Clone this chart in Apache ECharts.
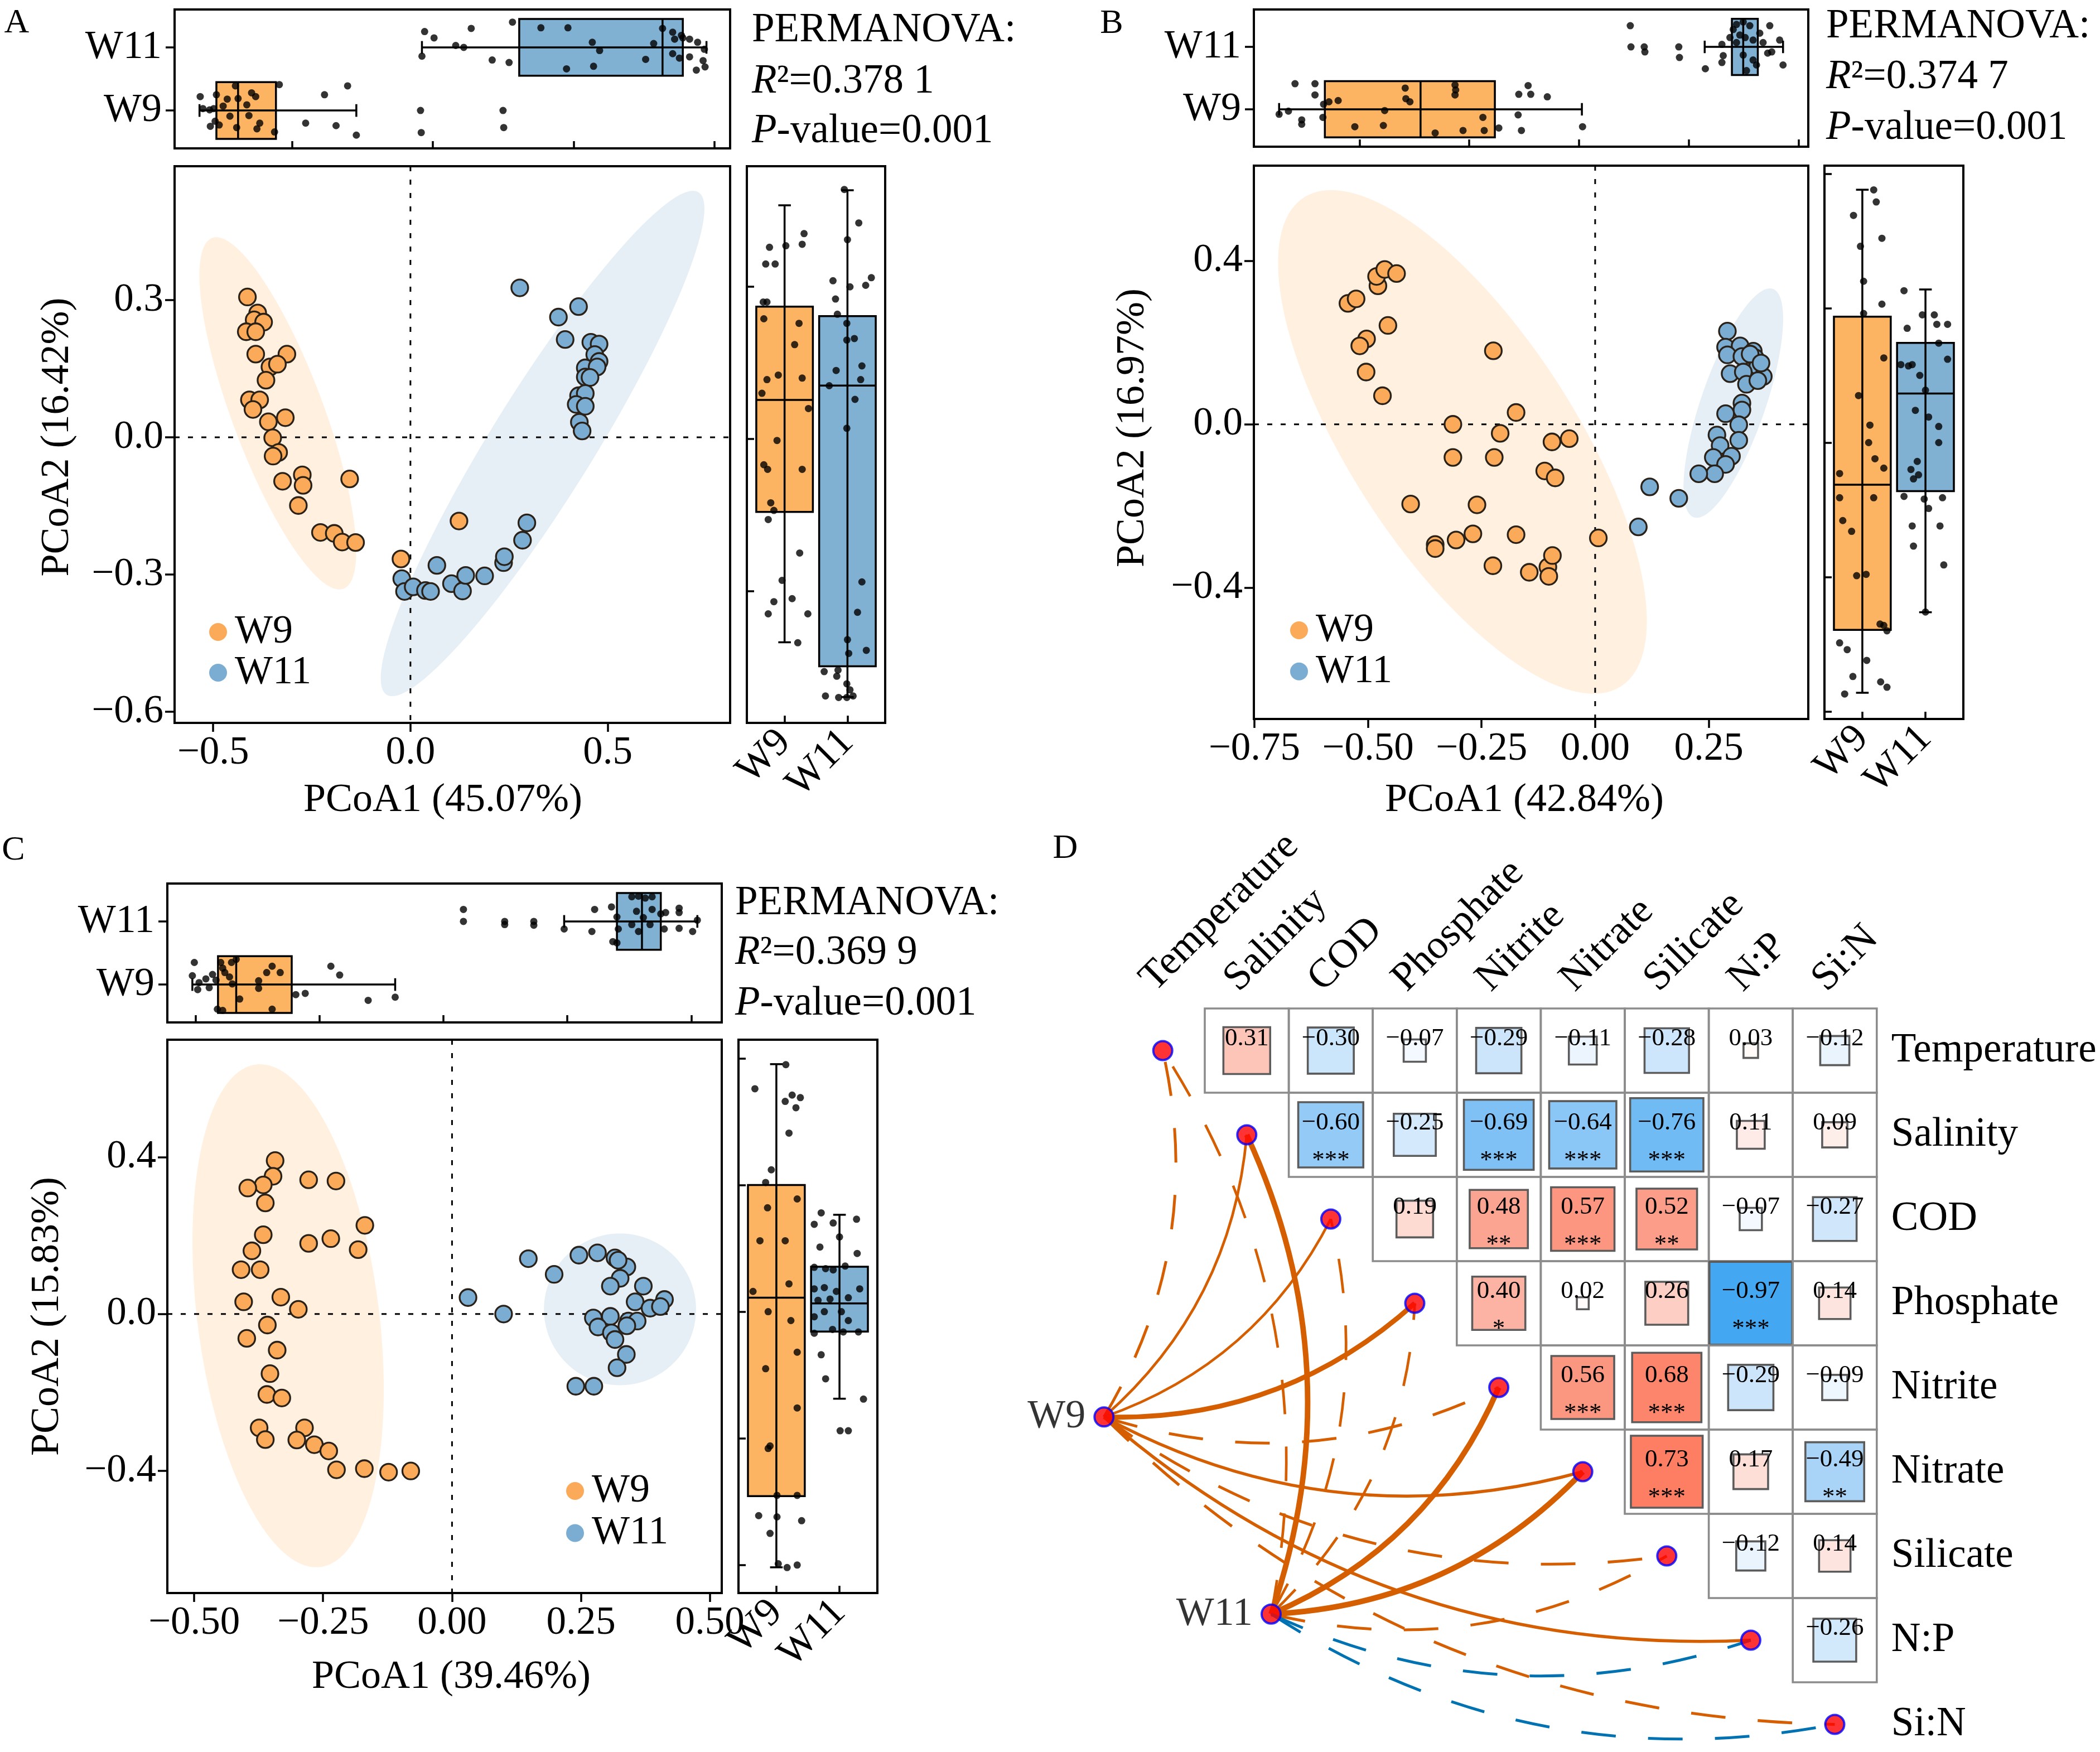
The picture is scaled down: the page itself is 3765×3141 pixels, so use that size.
<!DOCTYPE html>
<html>
<head>
<meta charset="utf-8">
<title>PCoA panels and Mantel network</title>
<script src="https://cdn.jsdelivr.net/npm/echarts@6.0.0/dist/echarts.min.js"></script>
<style>
html,body{margin:0;padding:0;background:#ffffff;}
#chart{width:3765px;height:3141px;}
</style>
</head>
<body>
<div id="chart"></div>
<script>
// ================= DATA =================
const groupNames = ['W9', 'W11'];

// ---- Panel A ----
const aTitles = ['PCoA1 (45.07%)', 'PCoA2 (16.42%)'];
const aR2 = '0.378 1';
const aP = '0.001';
const aXTicks = [-0.5, 0, 0.5];
const aYTicks = [-0.6, -0.3, 0, 0.3];
const aTopTicks = [0, 1, 2, 3];
const aRightTicks = [0, 1, 2];
const aW9 = [[-0.413,0.307],[-0.387,0.272],[-0.396,0.257],[-0.372,0.252],[-0.416,0.231],[-0.392,0.231],[-0.392,0.182],[-0.313,0.182],[-0.356,0.154],[-0.337,0.160],[-0.366,0.125],[-0.408,0.082],[-0.382,0.082],[-0.399,0.061],[-0.360,0.034],[-0.317,0.043],[-0.349,-0.001],[-0.334,-0.033],[-0.348,-0.041],[-0.324,-0.096],[-0.274,-0.082],[-0.272,-0.105],[-0.284,-0.149],[-0.154,-0.091],[-0.228,-0.208],[-0.193,-0.210],[-0.173,-0.229],[-0.139,-0.230],[-0.024,-0.266],[0.123,-0.183]];
const aW11 = [[0.277,0.327],[0.375,0.263],[0.426,0.286],[0.392,0.214],[0.457,0.208],[0.478,0.204],[0.467,0.181],[0.478,0.166],[0.443,0.152],[0.473,0.154],[0.443,0.132],[0.455,0.131],[0.426,0.091],[0.443,0.096],[0.420,0.072],[0.443,0.068],[0.428,0.033],[0.435,0.014],[-0.022,-0.309],[-0.015,-0.337],[0.007,-0.327],[0.038,-0.335],[0.051,-0.337],[0.067,-0.280],[0.104,-0.320],[0.132,-0.336],[0.140,-0.302],[0.188,-0.303],[0.236,-0.274],[0.238,-0.261],[0.284,-0.225],[0.295,-0.187]];
// ellipse: [centerX, centerY, varX, varY, covXY] (95% region, data units)
const aEllW9 = [-0.336, 0.0525, 0.03945, 0.14838, -0.06002];
const aEllW11 = [0.3348, -0.0134, 0.16818, 0.30548, 0.21058];
// box: [group, min, q1, median, q3, max]
const aTopBox = [[1,-0.658,-0.538,-0.384,-0.115,0.456],[2,0.922,1.613,2.631,2.775,2.943]];
const aTopJitW9 = [[-0.653,1.22],[-0.634,1.03],[-0.586,1.01],[-0.557,1.03],[-0.538,1.25],[-0.547,0.83],[-0.518,0.77],[-0.581,0.75],[-0.490,1.07],[-0.461,1.18],[-0.442,0.91],[-0.403,1.39],[-0.384,1.19],[-0.394,0.73],[-0.322,1.09],[-0.288,1.28],[-0.259,1.22],[-0.250,0.71],[-0.230,0.80],[-0.307,0.92],[-0.091,1.41],[-0.125,0.66],[0.096,0.80],[0.230,1.25],[0.312,0.76],[0.394,1.39],[0.456,0.61],[0.912,1.00],[0.917,0.65],[1.498,1.00],[1.503,0.73]];
const aTopJitW11 = [[0.941,2.25],[1.008,2.15],[0.922,1.86],[1.162,2.03],[1.219,2.00],[1.272,2.30],[1.421,1.80],[1.541,1.76],[1.565,2.40],[1.767,2.31],[1.959,2.31],[1.949,1.66],[2.132,2.08],[2.141,1.70],[2.184,1.95],[2.511,1.81],[2.568,2.06],[2.631,2.30],[2.703,2.24],[2.717,2.13],[2.775,2.15],[2.823,2.13],[2.880,2.08],[2.928,1.97],[2.703,1.90],[2.751,1.83],[2.823,1.85],[2.919,1.79],[2.933,1.69],[2.871,1.64],[2.765,2.19]];
const aRightBox = [[1,-0.337,0.520,1.256,1.870,2.536],[2,-0.697,-0.495,1.351,1.807,2.635]];
const aRightJitW9 = [[1.02,2.27],[1.28,2.28],[1.31,2.35],[0.76,2.26],[0.70,2.15],[0.85,2.15],[0.66,1.90],[0.72,1.90],[1.23,1.76],[0.67,1.79],[1.16,1.62],[0.90,1.42],[1.28,1.40],[0.72,1.39],[0.64,1.30],[1.38,1.20],[0.88,0.99],[0.67,0.83],[0.73,0.80],[1.28,0.80],[0.78,0.58],[0.83,0.53],[0.74,0.47],[1.24,0.25],[0.96,0.07],[0.83,-0.07],[1.12,-0.05],[0.74,-0.15],[1.37,-0.15],[1.21,-0.34]];
const aRightJitW11 = [[1.95,2.64],[2.18,2.42],[2.00,2.31],[1.77,2.04],[2.04,2.00],[2.38,2.06],[2.29,2.01],[1.81,1.92],[1.84,1.82],[1.99,1.76],[1.99,1.65],[2.11,1.66],[1.82,1.45],[2.23,1.48],[1.71,1.35],[2.21,1.39],[2.12,1.26],[1.99,1.07],[2.23,0.06],[2.16,-0.14],[2.00,-0.32],[2.02,-0.41],[2.30,-0.39],[1.63,-0.53],[1.85,-0.52],[1.83,-0.56],[1.99,-0.61],[2.04,-0.65],[1.65,-0.69],[1.86,-0.70],[1.99,-0.70],[2.09,-0.69]];

// ---- Panel B ----
const bTitles = ['PCoA1 (42.84%)', 'PCoA2 (16.97%)'];
const bR2 = '0.374 7';
const bP = '0.001';
const bXTicks = [-0.75, -0.5, -0.25, 0, 0.25];
const bYTicks = [-0.4, 0, 0.4];
const bTopTicks = [0, 1, 2, 3, 4];
const bRightTicks = [0, 1, 2, 3, 4];
const bW9 = [[-0.544,0.296],[-0.526,0.307],[-0.478,0.339],[-0.481,0.362],[-0.463,0.379],[-0.437,0.369],[-0.503,0.209],[-0.518,0.192],[-0.456,0.242],[-0.504,0.128],[-0.468,0.070],[-0.224,0.180],[-0.174,0.029],[-0.313,0.000],[-0.209,-0.022],[-0.095,-0.043],[-0.057,-0.035],[-0.313,-0.081],[-0.222,-0.081],[-0.111,-0.114],[-0.088,-0.131],[-0.406,-0.195],[-0.260,-0.197],[-0.352,-0.294],[-0.352,-0.304],[-0.306,-0.283],[-0.269,-0.268],[-0.174,-0.270],[-0.225,-0.346],[-0.145,-0.362],[-0.104,-0.349],[-0.094,-0.321],[-0.102,-0.372],[0.007,-0.278]];
const bW11 = [[0.291,0.228],[0.287,0.189],[0.319,0.192],[0.291,0.170],[0.323,0.166],[0.348,0.179],[0.352,0.163],[0.358,0.142],[0.370,0.117],[0.297,0.124],[0.326,0.128],[0.333,0.098],[0.358,0.107],[0.323,0.052],[0.323,0.035],[0.287,0.026],[0.316,-0.001],[0.268,-0.026],[0.316,-0.039],[0.275,-0.052],[0.300,-0.078],[0.260,-0.081],[0.287,-0.098],[0.263,-0.121],[0.228,-0.121],[0.120,-0.153],[0.184,-0.181],[0.095,-0.251],[0.341,0.172],[0.365,0.150]];
const bEllW9 = [-0.292, -0.043, 0.1646, 0.3797, -0.1779];
const bEllW11 = [0.304, 0.052, 0.012023, 0.07878, 0.022569];
const bTopBox = [[1,-0.732,-0.315,0.557,1.234,2.027],[2,3.146,3.394,3.497,3.630,3.860]];
const bTopJitW9 = [[-0.732,0.92],[-0.647,0.97],[-0.587,1.41],[-0.526,0.83],[-0.526,0.76],[-0.405,1.41],[-0.405,1.23],[-0.327,1.08],[-0.333,0.87],[-0.278,1.12],[-0.194,1.14],[-0.042,0.72],[0.218,0.74],[0.230,0.98],[0.417,1.34],[0.423,1.17],[0.460,1.12],[0.690,0.62],[0.871,1.39],[0.877,1.31],[0.871,1.23],[0.944,0.66],[1.125,0.87],[1.137,0.66],[1.270,0.70],[1.452,1.24],[1.537,1.38],[1.561,1.24],[1.712,1.20],[1.446,0.91],[1.476,0.66],[2.033,0.72]];
const bTopJitW11 = [[2.468,2.34],[2.474,2.00],[2.595,2.00],[2.601,1.92],[2.910,2.00],[2.916,1.83],[3.152,1.65],[3.303,2.04],[3.315,1.86],[3.303,1.75],[3.376,2.15],[3.406,2.28],[3.436,2.36],[3.497,2.40],[3.557,2.34],[3.466,2.19],[3.515,2.15],[3.587,2.11],[3.648,2.22],[3.678,2.07],[3.739,2.34],[3.720,1.90],[3.757,1.92],[3.829,2.11],[3.860,1.71],[3.497,1.87],[3.587,1.79],[3.618,1.71],[3.527,1.62],[3.436,2.07]];
const bRightBox = [[1,0.139,0.607,1.687,2.937,3.881],[2,0.738,1.639,2.365,2.742,3.139]];
const bRightJitW9 = [[0.86,3.69],[0.97,3.46],[1.02,3.20],[1.02,2.96],[1.18,3.88],[1.22,3.79],[1.31,3.52],[1.31,3.03],[1.34,2.63],[0.94,2.35],[1.12,2.13],[1.10,2.00],[1.20,1.88],[1.34,1.81],[0.64,1.77],[0.64,1.59],[1.18,1.59],[0.69,1.42],[0.83,1.34],[0.91,1.01],[1.06,1.02],[1.28,0.65],[1.34,0.64],[1.39,0.60],[0.64,0.51],[0.76,0.46],[1.07,0.38],[0.85,0.26],[0.72,0.13],[1.29,0.22],[1.39,0.18]];
const bRightJitW11 = [[1.66,3.13],[1.95,2.95],[2.14,2.95],[2.18,2.88],[1.71,2.85],[2.35,2.88],[2.21,2.74],[1.61,2.58],[1.73,2.57],[1.79,2.58],[1.91,2.50],[2.35,2.62],[2.00,2.39],[1.84,2.24],[2.05,2.19],[2.21,2.12],[2.21,2.00],[1.87,1.86],[1.77,1.80],[1.89,1.76],[1.81,1.73],[1.66,1.60],[1.98,1.58],[2.27,1.59],[2.05,1.51],[1.79,1.38],[2.23,1.38],[1.81,1.23],[2.29,1.09],[2.00,0.74]];

// ---- Panel C ----
const cTitles = ['PCoA1 (39.46%)', 'PCoA2 (15.83%)'];
const cR2 = '0.369 9';
const cP = '0.001';
const cXTicks = [-0.5, -0.25, 0, 0.25, 0.5];
const cYTicks = [-0.4, 0, 0.4];
const cTopTicks = [0, 1, 2, 3, 4];
const cRightTicks = [0, 1, 2, 3, 4];
const cW9 = [[-0.343,0.391],[-0.347,0.351],[-0.366,0.329],[-0.396,0.321],[-0.362,0.283],[-0.278,0.342],[-0.225,0.339],[-0.169,0.226],[-0.366,0.202],[-0.388,0.161],[-0.278,0.180],[-0.235,0.192],[-0.182,0.164],[-0.409,0.113],[-0.372,0.113],[-0.332,0.043],[-0.404,0.031],[-0.298,0.012],[-0.358,-0.028],[-0.398,-0.062],[-0.339,-0.092],[-0.353,-0.152],[-0.359,-0.205],[-0.330,-0.214],[-0.374,-0.290],[-0.286,-0.290],[-0.362,-0.320],[-0.301,-0.321],[-0.267,-0.333],[-0.239,-0.349],[-0.224,-0.397],[-0.170,-0.394],[-0.123,-0.403],[-0.080,-0.400]];
const cW11 = [[0.031,0.042],[0.100,0.000],[0.148,0.141],[0.198,0.101],[0.246,0.150],[0.282,0.156],[0.316,0.143],[0.339,0.120],[0.326,0.091],[0.307,0.071],[0.371,0.071],[0.355,0.031],[0.412,0.037],[0.384,0.015],[0.404,0.019],[0.274,-0.010],[0.307,-0.006],[0.342,-0.018],[0.359,-0.018],[0.283,-0.033],[0.309,-0.048],[0.339,-0.030],[0.316,-0.065],[0.338,-0.103],[0.320,-0.137],[0.240,-0.184],[0.275,-0.184],[0.322,0.137]];
const cEllW9 = [-0.3178, -0.0045, 0.034392, 0.41075, -0.034856];
const cEllW11 = [0.3257, 0.0119, 0.02174, 0.03737, 0];
const cTopBox = [[1,-0.027,0.180,0.327,0.775,1.610],[2,2.974,3.400,3.602,3.754,4.049]];
const cTopJitW9 = [[-0.011,1.35],[-0.027,1.14],[0.027,1.03],[0.016,0.92],[0.082,1.09],[0.136,1.16],[0.164,1.07],[0.202,1.35],[0.218,1.26],[0.235,1.19],[0.289,1.35],[0.327,1.40],[0.295,1.01],[0.355,0.77],[0.175,0.61],[0.218,0.59],[0.508,1.06],[0.508,0.94],[0.573,1.19],[0.617,1.29],[0.682,1.19],[0.617,0.61],[0.808,0.84],[0.884,0.86],[1.091,1.29],[1.162,1.15],[1.392,0.75],[1.610,0.80],[0.273,1.12],[0.109,0.95]];
const cTopJitW11 = [[2.161,2.19],[2.161,2.00],[2.494,2.00],[2.494,1.95],[2.729,2.00],[2.729,1.94],[2.974,1.88],[3.198,1.84],[3.220,2.19],[3.356,2.23],[3.400,2.07],[3.411,1.88],[3.400,1.66],[3.367,1.68],[3.520,2.39],[3.574,2.40],[3.629,2.37],[3.684,2.39],[3.558,2.16],[3.613,2.06],[3.667,1.95],[3.684,2.19],[3.754,2.12],[3.793,2.14],[3.902,2.21],[3.902,2.14],[3.782,1.88],[3.902,1.89],[4.011,1.84],[4.049,2.02],[3.574,1.84],[3.520,1.95]];
const cRightBox = [[1,-0.018,0.544,2.111,3.000,3.954],[2,1.313,1.843,2.065,2.355,2.765]];
const cRightJitW9 = [[0.66,3.76],[1.15,3.95],[1.14,3.66],[1.25,3.71],[1.38,3.69],[1.31,3.61],[1.20,3.41],[0.92,3.12],[0.83,3.02],[1.33,2.89],[0.86,2.82],[0.74,2.56],[1.14,2.56],[0.63,2.16],[1.20,2.22],[0.87,2.00],[1.23,1.93],[1.33,1.68],[0.83,1.55],[1.33,1.24],[0.90,0.94],[0.87,0.92],[1.01,0.55],[1.33,0.55],[0.72,0.39],[1.01,0.38],[1.40,0.35],[0.90,0.25],[1.03,0.01],[1.17,-0.02],[1.33,0.00]];
const cRightJitW11 = [[1.71,2.78],[2.00,2.59],[2.27,2.73],[1.60,2.69],[1.90,2.70],[1.69,2.51],[2.28,2.46],[1.60,2.35],[1.78,2.34],[1.90,2.33],[2.09,2.36],[1.60,2.18],[1.76,2.19],[1.95,2.16],[1.66,2.09],[1.85,2.10],[2.14,2.11],[2.32,2.18],[1.76,2.00],[2.03,2.00],[2.14,1.93],[1.89,1.86],[1.60,1.83],[2.06,1.84],[2.30,1.84],[1.71,1.66],[1.78,1.47],[2.38,1.31],[2.01,1.06],[2.14,1.06],[1.60,1.96]];

// ---- Panel D ----
const corrVars = ['Temperature','Salinity','COD','Phosphate','Nitrite','Nitrate','Silicate','N:P','Si:N'];
// upper triangle, row i holds correlations with variables i+1 ... 8
const corrR = [
  [0.31,-0.30,-0.07,-0.29,-0.11,-0.28,0.03,-0.12],
  [-0.60,-0.25,-0.69,-0.64,-0.76,0.11,0.09],
  [0.19,0.48,0.57,0.52,-0.07,-0.27],
  [0.40,0.02,0.26,-0.97,0.14],
  [0.56,0.68,-0.29,-0.09],
  [0.73,0.17,-0.49],
  [-0.12,0.14],
  [-0.26]
];
const corrSig = [
  ['','','','','','','',''],
  ['***','','***','***','***','',''],
  ['','**','***','**','',''],
  ['*','','','***',''],
  ['***','***','',''],
  ['***','','**'],
  ['',''],
  ['']
];
const mantelSpecies = ['W9', 'W11'];
// Mantel r (negative = dashed link) and p per species for each variable
const mantelR = [
  [-0.12, 0.10, 0.10, 0.35, -0.12, 0.15, -0.12, 0.15, -0.12],
  [-0.10, 0.40, -0.10, -0.10, 0.40, 0.40, -0.12, -0.12, -0.12]
];
const mantelP = [
  [0.01, 0.01, 0.01, 0.01, 0.01, 0.01, 0.01, 0.01, 0.01],
  [0.01, 0.01, 0.01, 0.01, 0.01, 0.01, 0.01, 0.20, 0.20]
];

// ================= STYLE / LAYOUT =================
const FONT = '"Liberation Serif","Times New Roman",Times,serif';
const BOX_FILL = ['#FDB462', '#80B1D3'];
const PT_FILL = ['#FBAA5A', '#7BADD3'];
const PT_BORDER = '#2a2118';
const ELL_FILL = ['rgba(253,180,98,0.2)', 'rgba(128,177,211,0.2)'];
const nodeLayout = { W9: [-0.70, 4.35], W11: [1.29, 6.69] };
const CORR_STOPS = [[-1,[61,164,242]],[-0.5,[168,211,247]],[0,[255,255,255]],[0.5,[251,160,140]],[1,[255,85,51]]];

const PANELS = [
  { letter:'A', letterPos:[30,42],
    main:{left:313,top:298,width:996,height:998}, topG:{left:313,top:17,width:996,height:249}, rightG:{left:1339,top:298,width:248,height:998},
    xr:[-0.5976,0.810], yr:[-0.6245,0.593], tr:[-0.835,3.111], vr:[-0.867,2.793],
    xt:aXTicks, yt:aYTicks, tt:aTopTicks, vt:aRightTicks, dec:1,
    pts:[aW9,aW11], ell:[aEllW9,aEllW11], topBox:aTopBox, topJ:[aTopJitW9,aTopJitW11], rightBox:aRightBox, rightJ:[aRightJitW9,aRightJitW11],
    titles:aTitles, xGap:103, yGap:174, xPad:[0,34,0,0], yPad:[0,0,0,27], perm:{x:1348,y:[55,147,236]}, r2:aR2, p:aP, legend:{left:375,top:1097,gap:1} },
  { letter:'B', letterPos:[1993,43],
    main:{left:2248,top:297,width:994,height:992}, topG:{left:2248,top:17,width:994,height:246}, rightG:{left:3271,top:297,width:249,height:992},
    xr:[-0.751,0.469], yr:[-0.721,0.633], tr:[-0.962,4.09], vr:[-0.056,4.06],
    xt:bXTicks, yt:bYTicks, tt:bTopTicks, vt:bRightTicks, dec:2,
    pts:[bW9,bW11], ell:[bEllW9,bEllW11], topBox:bTopBox, topJ:[bTopJitW9,bTopJitW11], rightBox:bRightBox, rightJ:[bRightJitW9,bRightJitW11],
    titles:bTitles, xGap:110, yGap:181, xPad:[0,24,0,0], yPad:[0,0,0,52], perm:{x:3274,y:[48,139,230]}, r2:bR2, p:bP, legend:{left:2313,top:1094,gap:1.7} },
  { letter:'C', letterPos:[24,1525],
    main:{left:300,top:1864,width:994,height:992}, topG:{left:300,top:1584,width:994,height:249}, rightG:{left:1324,top:1864,width:249,height:992},
    xr:[-0.552,0.523], yr:[-0.711,0.699], tr:[-0.229,4.246], vr:[-0.221,4.147],
    xt:cXTicks, yt:cYTicks, tt:cTopTicks, vt:cRightTicks, dec:2,
    pts:[cW9,cW11], ell:[cEllW9,cEllW11], topBox:cTopBox, topJ:[cTopJitW9,cTopJitW11], rightBox:cRightBox, rightJ:[cRightJitW9,cRightJitW11],
    titles:cTitles, xGap:115, yGap:179, xPad:[0,0,0,24], yPad:[0,0,0,0], perm:{x:1318,y:[1620,1709,1800]}, r2:cR2, p:cP, legend:{left:1015,top:2637,gap:3.5} }
];

// ================= BUILD =================
function tickFmt(dec){ return function(v){ return (v < -1e-9 ? '\u2212' : '') + Math.abs(v).toFixed(dec); }; }
function catFmt(v){ return groupNames[Math.round(v) - 1] || ''; }
function corrColor(v){
  for (let k = 0; k < CORR_STOPS.length - 1; k++) {
    const a = CORR_STOPS[k][0], ca = CORR_STOPS[k][1], b = CORR_STOPS[k+1][0], cb = CORR_STOPS[k+1][1];
    if (v <= b) { const f = (v - a) / (b - a); return 'rgb(' + ca.map((x,i) => Math.round(x + (cb[i]-x)*f)).join(',') + ')'; }
  }
  return 'rgb(255,85,51)';
}
function corrFmt(v){ return (v < 0 ? '\u2212' : '') + Math.abs(v).toFixed(2); }

const grids = [], xAxes = [], yAxes = [], series = [], legends = [], graphics = [];
const frame = { show:true, borderColor:'#000', borderWidth:4, backgroundColor:'rgba(0,0,0,0)', containLabel:false, outerBoundsMode:'none' };
const tickStyle = { color:'#000', width:3.5 };
const lblBase = { fontFamily:FONT, color:'#000' };

function ellipseRender(params, api){
  const cx = api.value(0), cy = api.value(1), sxx = api.value(2), syy = api.value(3), sxy = api.value(4);
  const l11 = Math.sqrt(sxx), l21 = sxy / l11, l22 = Math.sqrt(Math.max(syy - l21*l21, 1e-9));
  const pts = [];
  for (let k = 0; k < 160; k++) {
    const t = 2*Math.PI*k/160;
    pts.push(api.coord([cx + l11*Math.cos(t), cy + l21*Math.cos(t) + l22*Math.sin(t)]));
  }
  return { type:'polygon', shape:{ points:pts }, style:{ fill: ELL_FILL[params.dataIndex] } };
}
function zeroRender(params, api){
  const cs = params.coordSys, p = api.coord([0, 0]);
  const st = { stroke:'#000', lineWidth:3, lineDash:[9,15], fill:null };
  return { type:'group', children:[
    { type:'line', shape:{ x1:p[0], y1:cs.y, x2:p[0], y2:cs.y+cs.height }, style:st },
    { type:'line', shape:{ x1:cs.x, y1:p[1], x2:cs.x+cs.width, y2:p[1] }, style:st }
  ]};
}
function boxRender(horizontal){
  return function(params, api){
    const cat = api.value(0), mn = api.value(1), q1 = api.value(2), md = api.value(3), q3 = api.value(4), mx = api.value(5);
    const P = horizontal ? (v => api.coord([v, cat])) : (v => api.coord([cat, v]));
    const halfBox = Math.abs(horizontal ? api.size([0, 0.9])[1] : api.size([0.9, 0])[0]) / 2;
    const halfCap = Math.abs(horizontal ? api.size([0, 0.2])[1] : api.size([0.2, 0])[0]) / 2;
    const a = P(mn), b = P(q1), m = P(md), c = P(q3), d = P(mx);
    const st = { stroke:'#000', lineWidth:3.5, fill:null };
    const fill = BOX_FILL[cat - 1];
    let ch;
    if (horizontal) {
      const y = a[1];
      ch = [
        { type:'rect', shape:{ x:Math.min(b[0],c[0]), y:y-halfBox, width:Math.abs(c[0]-b[0]), height:2*halfBox }, style:{ fill:fill, stroke:'#000', lineWidth:3.5 } },
        { type:'line', shape:{ x1:a[0], y1:y, x2:d[0], y2:y }, style:st },
        { type:'line', shape:{ x1:a[0], y1:y-halfCap, x2:a[0], y2:y+halfCap }, style:st },
        { type:'line', shape:{ x1:d[0], y1:y-halfCap, x2:d[0], y2:y+halfCap }, style:st },
        { type:'line', shape:{ x1:m[0], y1:y-halfBox, x2:m[0], y2:y+halfBox }, style:st }
      ];
    } else {
      const x = a[0];
      ch = [
        { type:'rect', shape:{ x:x-halfBox, y:Math.min(b[1],c[1]), width:2*halfBox, height:Math.abs(c[1]-b[1]) }, style:{ fill:fill, stroke:'#000', lineWidth:3.5 } },
        { type:'line', shape:{ x1:x, y1:a[1], x2:x, y2:d[1] }, style:st },
        { type:'line', shape:{ x1:x-halfCap, y1:a[1], x2:x+halfCap, y2:a[1] }, style:st },
        { type:'line', shape:{ x1:x-halfCap, y1:d[1], x2:x+halfCap, y2:d[1] }, style:st },
        { type:'line', shape:{ x1:x-halfBox, y1:m[1], x2:x+halfBox, y2:m[1] }, style:st }
      ];
    }
    return { type:'group', children:ch };
  };
}

PANELS.forEach(P => {
  const gM = grids.length, gT = gM + 1, gR = gM + 2;
  grids.push(Object.assign({}, frame, P.main));
  grids.push(Object.assign({}, frame, P.topG));
  grids.push(Object.assign({}, frame, P.rightG));

  // main axes
  xAxes.push({ type:'value', gridIndex:gM, position:'bottom', min:P.xr[0], max:P.xr[1], splitLine:{show:false},
    axisLine:{ show:false, onZero:false },
    axisTick:{ show:true, inside:false, length:16, customValues:P.xt, lineStyle:tickStyle },
    axisLabel:Object.assign({ show:true, customValues:P.xt, formatter:tickFmt(P.dec), margin:19, fontSize:71 }, lblBase),
    name:P.titles[0], nameLocation:'middle', nameGap:P.xGap, nameTextStyle:Object.assign({ fontSize:72, padding:P.xPad }, lblBase) });
  yAxes.push({ type:'value', gridIndex:gM, position:'left', min:P.yr[0], max:P.yr[1], splitLine:{show:false},
    axisLine:{ show:false, onZero:false },
    axisTick:{ show:true, inside:false, length:17, customValues:P.yt, lineStyle:tickStyle },
    axisLabel:Object.assign({ show:true, customValues:P.yt, formatter:tickFmt(1), margin:20, fontSize:71 }, lblBase),
    name:P.titles[1], nameLocation:'middle', nameRotate:90, nameGap:P.yGap, nameTextStyle:Object.assign({ fontSize:72, padding:P.yPad }, lblBase) });
  // top marginal axes
  xAxes.push({ type:'value', gridIndex:gT, position:'bottom', min:P.tr[0], max:P.tr[1], splitLine:{show:false},
    axisLine:{ show:false, onZero:false },
    axisTick:{ show:true, inside:true, length:13, customValues:P.tt, lineStyle:tickStyle },
    axisLabel:{ show:false } });
  yAxes.push({ type:'value', gridIndex:gT, position:'left', min:0.4, max:2.6, splitLine:{show:false},
    axisLine:{ show:false, onZero:false },
    axisTick:{ show:true, inside:false, length:16, customValues:[1,2], lineStyle:tickStyle },
    axisLabel:Object.assign({ show:true, customValues:[1,2], formatter:catFmt, margin:23, fontSize:72 }, lblBase) });
  // right marginal axes
  xAxes.push({ type:'value', gridIndex:gR, position:'bottom', min:0.4, max:2.6, splitLine:{show:false},
    axisLine:{ show:false, onZero:false },
    axisTick:{ show:true, inside:true, length:13, customValues:[1,2], lineStyle:tickStyle },
    axisLabel:Object.assign({ show:true, customValues:[1,2], formatter:catFmt, rotate:45, margin:24, fontSize:72 }, lblBase) });
  yAxes.push({ type:'value', gridIndex:gR, position:'left', min:P.vr[0], max:P.vr[1], splitLine:{show:false},
    axisLine:{ show:false, onZero:false },
    axisTick:{ show:true, inside:true, length:13, customValues:P.vt, lineStyle:tickStyle },
    axisLabel:{ show:false } });

  // main series
  series.push({ type:'custom', name:P.letter+' ellipses', xAxisIndex:gM, yAxisIndex:gM, silent:true, z:1,
    data:P.ell, renderItem:ellipseRender });
  series.push({ type:'custom', name:P.letter+' zero lines', xAxisIndex:gM, yAxisIndex:gM, silent:true, z:2,
    data:[[0,0]], renderItem:zeroRender });
  groupNames.forEach((g, gi) => {
    series.push({ type:'scatter', name:g, xAxisIndex:gM, yAxisIndex:gM, z:3, silent:true,
      data:P.pts[gi], symbol:'circle', symbolSize:30,
      itemStyle:{ color:PT_FILL[gi], borderColor:PT_BORDER, borderWidth:3.3, opacity:1 },
      emphasis:{ disabled:true } });
  });
  // top marginal
  series.push({ type:'custom', name:P.letter+' top box', xAxisIndex:gT, yAxisIndex:gT, silent:true, z:2,
    data:P.topBox, renderItem:boxRender(true) });
  groupNames.forEach((g, gi) => {
    series.push({ type:'scatter', name:P.letter+' top points '+g, xAxisIndex:gT, yAxisIndex:gT, z:3, silent:true,
      data:P.topJ[gi], symbolSize:13, itemStyle:{ color:'#000' }, emphasis:{ disabled:true } });
  });
  // right marginal
  series.push({ type:'custom', name:P.letter+' right box', xAxisIndex:gR, yAxisIndex:gR, silent:true, z:2,
    data:P.rightBox, renderItem:boxRender(false) });
  groupNames.forEach((g, gi) => {
    series.push({ type:'scatter', name:P.letter+' right points '+g, xAxisIndex:gR, yAxisIndex:gR, z:3, silent:true,
      data:P.rightJ[gi], symbolSize:13, itemStyle:{ color:'#000' }, emphasis:{ disabled:true } });
  });

  // legend
  legends.push({ data:groupNames, orient:'vertical', left:P.legend.left, top:P.legend.top, padding:0,
    itemWidth:50, itemHeight:32, itemGap:P.legend.gap, selectedMode:false, icon:'circle',
    itemStyle:{ borderWidth:0 },
    textStyle:{ fontSize:72, fontFamily:FONT, color:'#000', lineHeight:70 } });

  // texts
  graphics.push({ type:'text', x:P.letterPos[0], y:P.letterPos[1], silent:true,
    style:{ text:P.letter, fontSize:62, fontFamily:FONT, fill:'#000', align:'center', verticalAlign:'middle' } });
  const permLines = ['PERMANOVA:', '{i|R}\u00B2=' + P.r2, '{i|P}-value=' + P.p];
  permLines.forEach((t, k) => {
    graphics.push({ type:'text', x:P.perm.x, y:P.perm.y[k], silent:true,
      style:{ text:t, fontSize:73, fontFamily:FONT, fill:'#000', align:'left', verticalAlign:'middle',
        rich:{ i:{ fontStyle:'italic', fontSize:73, fontFamily:FONT, fill:'#000' } } } });
  });
});

// ---- Panel D ----
const gD = grids.length;
grids.push({ show:false, left:1858.8, top:1808, width:1581.3, height:1328.8, containLabel:false, outerBoundsMode:'none' });
xAxes.push({ type:'value', gridIndex:gD, min:-1.5, max:9, show:false });
yAxes.push({ type:'value', gridIndex:gD, min:-0.5, max:8.3, inverse:true, show:false });
graphics.push({ type:'text', x:1910, y:1522, silent:true,
  style:{ text:'D', fontSize:62, fontFamily:FONT, fill:'#000', align:'center', verticalAlign:'middle' } });

const cellData = [], cellSig = [];
corrR.forEach((row, r) => row.forEach((v, j) => { cellData.push([r + 1 + j, r, v]); cellSig.push(corrSig[r][j]); }));
series.push({ type:'custom', name:'correlation', xAxisIndex:gD, yAxisIndex:gD, silent:true, clip:false, z:2,
  data:cellData,
  renderItem(params, api){
    const c = api.value(0), r = api.value(1), v = api.value(2);
    const ctr = api.coord([c, r]);
    const sz = api.size([1, 1]);
    const w = Math.abs(sz[0]), h = Math.abs(sz[1]);
    const k = Math.sqrt(Math.abs(v));
    const sw = w*k, sh = h*k;
    const ch = [
      { type:'rect', shape:{ x:ctr[0]-w/2, y:ctr[1]-h/2, width:w, height:h }, style:{ fill:null, stroke:'#8c8c8c', lineWidth:3.6 } },
      { type:'rect', shape:{ x:ctr[0]-sw/2, y:ctr[1]-sh/2, width:sw, height:sh }, style:{ fill:corrColor(v), stroke:'#5c5c5c', lineWidth:3.6 } },
      { type:'text', x:ctr[0], y:ctr[1]-21, style:{ text:corrFmt(v), fontSize:45, fontFamily:FONT, fill:'#000', align:'center', verticalAlign:'middle' } }
    ];
    const s = cellSig[params.dataIndex];
    if (s) ch.push({ type:'text', x:ctr[0], y:ctr[1]+47, style:{ text:s, fontSize:45, fontFamily:FONT, fill:'#000', align:'center', verticalAlign:'middle' } });
    return { type:'group', children:ch };
  } });

const linkData = [];
mantelSpecies.forEach((s, si) => corrVars.forEach((v, ei) => linkData.push([si, ei, mantelR[si][ei], mantelP[si][ei]])));
series.push({ type:'custom', name:'mantel links', xAxisIndex:gD, yAxisIndex:gD, silent:true, clip:false, z:3,
  data:linkData,
  renderItem(params, api){
    const si = api.value(0), ei = api.value(1), r = api.value(2), p = api.value(3);
    const a = api.coord(nodeLayout[mantelSpecies[si]]), b = api.coord([ei, ei]);
    const dx = b[0]-a[0], dy = b[1]-a[1];
    const cpx = (a[0]+b[0])/2 - 0.2*dy, cpy = (a[1]+b[1])/2 + 0.2*dx;
    return { type:'bezierCurve', shape:{ x1:a[0], y1:a[1], x2:b[0], y2:b[1], cpx1:cpx, cpy1:cpy },
      style:{ fill:null, stroke: p < 0.05 ? '#D55E00' : '#0072B2', lineWidth: 3 + 17*Math.abs(r), lineDash: r < 0 ? [62,58] : null, lineCap:'butt' } };
  } });

const nodeData = corrVars.map((n, i) => ({ name:n, value:[i, i], label:{ show:false } }))
  .concat(mantelSpecies.map(s => ({ name:s, value:nodeLayout[s], label:{ show:true } })));
series.push({ type:'scatter', name:'nodes', xAxisIndex:gD, yAxisIndex:gD, silent:true, z:5,
  data:nodeData, symbol:'circle', symbolSize:34,
  itemStyle:{ color:'#FF0000', borderColor:'#0000FF', borderWidth:4 },
  label:{ position:'left', distance:14, formatter:'{b}', fontSize:72, fontFamily:FONT, color:'#000' },
  emphasis:{ disabled:true } });

series.push({ type:'custom', name:'variable labels', xAxisIndex:gD, yAxisIndex:gD, silent:true, clip:false, z:6,
  data:corrVars.map((n, i) => [i, i]),
  renderItem(params, api){
    const i = params.dataIndex, name = corrVars[i];
    const rowP = api.coord([8.5, i]), colP = api.coord([i, -0.5]);
    return { type:'group', children:[
      { type:'text', x:rowP[0]+26, y:rowP[1], style:{ text:name, fontSize:73, fontFamily:FONT, fill:'#000', align:'left', verticalAlign:'middle' } },
      { type:'text', x:colP[0]-28, y:colP[1]-42, rotation:Math.PI/4, style:{ text:name, fontSize:73, fontFamily:FONT, fill:'#000', align:'left', verticalAlign:'middle' } }
    ]};
  } });

const chart = echarts.init(document.getElementById('chart'), null, { renderer:'canvas', width:3765, height:3141 });
chart.setOption({
  animation:false,
  backgroundColor:'#ffffff',
  textStyle:{ fontFamily:FONT },
  grid:grids, xAxis:xAxes, yAxis:yAxes, legend:legends, graphic:graphics, series:series
});
</script>
</body>
</html>
